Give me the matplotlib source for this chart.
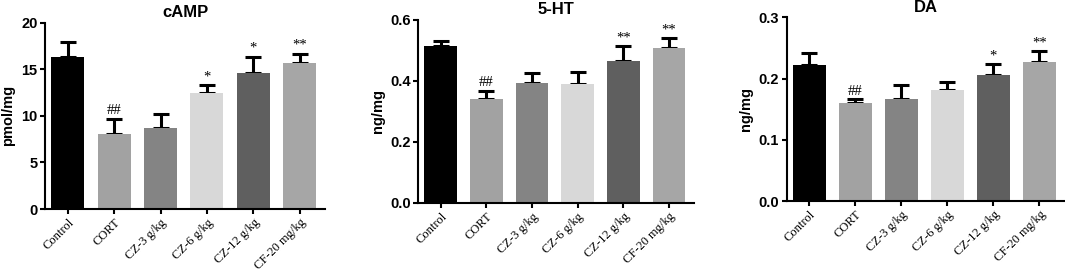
import matplotlib
matplotlib.use('Agg')
import matplotlib.pyplot as plt
import numpy as np

groups = ['Control', 'CORT', 'CZ-3 g/kg', 'CZ-6 g/kg', 'CZ-12 g/kg', 'CF-20 mg/kg']
colors = ['#000000', '#a2a2a2', '#848484', '#d8d8d8', '#5f5f5f', '#a6a6a6']

camp_mean = [16.3, 8.05, 8.7, 12.4, 14.65, 15.65]
camp_err = [1.6, 1.6, 1.55, 0.9, 1.7, 1.0]
camp_sig = ['', '##', '', '*', '*', '**']

ht_mean = [0.516, 0.340, 0.393, 0.389, 0.464, 0.508]
ht_err = [0.016, 0.026, 0.033, 0.040, 0.049, 0.033]
ht_sig = ['', '##', '', '', '**', '**']

da_mean = [0.223, 0.160, 0.1665, 0.181, 0.2065, 0.227]
da_err = [0.019, 0.006, 0.0225, 0.014, 0.0175, 0.018]
da_sig = ['', '##', '', '', '*', '**']

panels = [
    ('cAMP', 'pmol/mg', camp_mean, camp_err, camp_sig, 20, [0, 5, 10, 15, 20], '%g'),
    ('5-HT', 'ng/mg', ht_mean, ht_err, ht_sig, 0.6, [0, 0.2, 0.4, 0.6], '%.1f'),
    ('DA', 'ng/mg', da_mean, da_err, da_sig, 0.3, [0, 0.1, 0.2, 0.3], '%.1f'),
]

# axes positions in figure fractions (left, bottom, width, height)
rects = [
    [0.0423, 0.2316, 0.263, 0.685],
    [0.3928, 0.2537, 0.2589, 0.673],
    [0.7387, 0.2610, 0.2610, 0.675],
]

fig = plt.figure(figsize=(10.65, 2.72), dpi=100)
x = np.arange(len(groups))

for (title, ylab, mean, err, sig, ymax, yticks, fmt), r in zip(panels, rects):
    ax = fig.add_axes(r)
    ax.bar(x, mean, width=0.71, color=colors, zorder=2)
    ax.errorbar(x, mean, yerr=[np.zeros(len(err)), err], fmt='none',
                ecolor='black', elinewidth=2.2, capsize=5.5, capthick=2.2, zorder=1)
    for i, s in enumerate(sig):
        if s:
            ax.text(x[i], mean[i] + err[i] + ymax * 0.01, s, ha='center', va='bottom',
                    fontsize=10.5, family='Liberation Serif')
    ax.set_xlim(-0.49, 5.55)
    ax.set_ylim(0, ymax)
    ax.set_yticks(yticks)
    ax.set_yticklabels([fmt % t for t in yticks], fontsize=10.5, fontweight='bold',
                       family='Liberation Sans')
    ax.set_xticks(x)
    ax.set_xticklabels(groups, rotation=45, ha='right', rotation_mode='anchor',
                       fontsize=9, family='Liberation Serif')
    ax.set_ylabel(ylab, fontsize=10.5, fontweight='bold', family='Liberation Sans', labelpad=4)
    ax.set_title(title, fontsize=12, fontweight='bold', family='Liberation Sans', pad=4)
    for side in ['top', 'right']:
        ax.spines[side].set_visible(False)
    for side in ['left', 'bottom']:
        ax.spines[side].set_linewidth(1.5)
    ax.tick_params(axis='both', width=1.5, length=3.5, pad=2)

plt.savefig('out.png', dpi=100)
